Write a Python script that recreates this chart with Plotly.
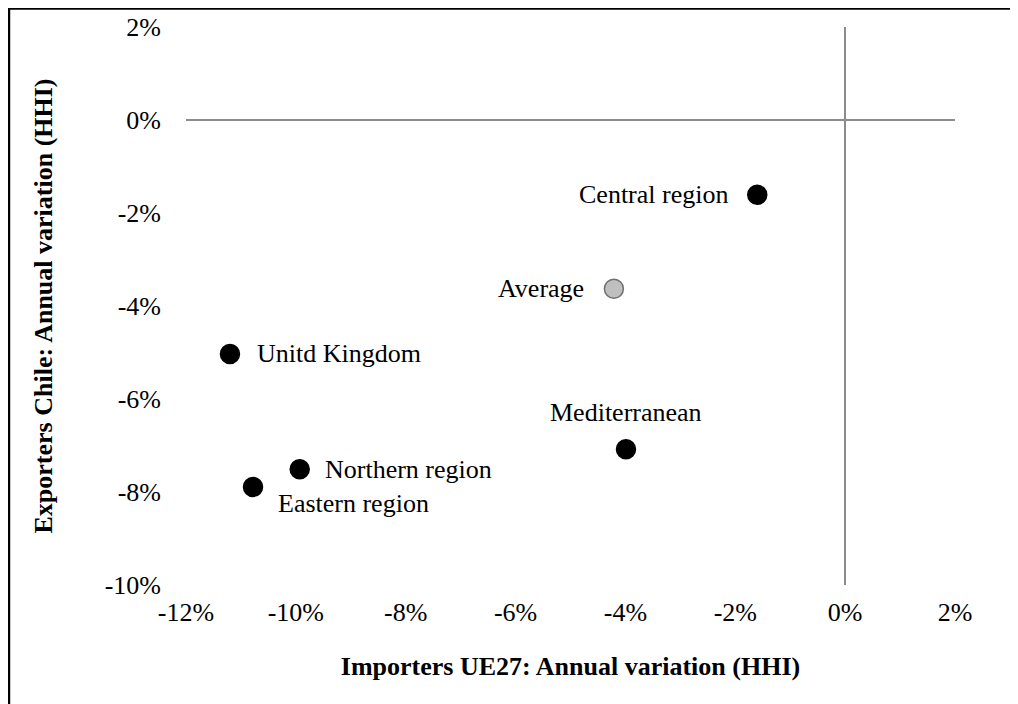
import plotly.graph_objects as go

names = ["Central region", "Average", "Unitd Kingdom", "Mediterranean", "Northern region", "Eastern region"]
x_vals = [-1.60, -4.21, -11.20, -3.99, -9.93, -10.78]
y_vals = [-1.61, -3.63, -5.03, -7.08, -7.51, -7.89]
fill_colors = ["#000000", "#bfbfbf", "#000000", "#000000", "#000000", "#000000"]
line_colors = ["#000000", "#6f6f6f", "#000000", "#000000", "#000000", "#000000"]

x_ticks = [-12, -10, -8, -6, -4, -2, 0, 2]
y_ticks = [-10, -8, -6, -4, -2, 0, 2]

# label placement (style): xanchor, yanchor, xshift, yshift
label_pos = {
    "Central region": ("right", "middle", -27, 0),
    "Average": ("right", "middle", -28, 0),
    "Unitd Kingdom": ("left", "middle", 25, 0),
    "Mediterranean": ("center", "middle", 0, 37),
    "Northern region": ("left", "middle", 23, 0),
    "Eastern region": ("left", "middle", 23, -17),
}

FONT = "Liberation Serif, Times New Roman, serif"

fig = go.Figure()
fig.add_trace(go.Scatter(
    x=x_vals, y=y_vals, mode="markers",
    marker=dict(size=19, color=fill_colors, line=dict(color=line_colors, width=1.5)),
    showlegend=False, hoverinfo="skip",
))

annotations = []
for n, xv, yv in zip(names, x_vals, y_vals):
    xa, ya, xs, ys = label_pos[n]
    annotations.append(dict(
        x=xv, y=yv, xref="x", yref="y", text=n, showarrow=False,
        xanchor=xa, yanchor=ya, xshift=xs, yshift=ys,
        font=dict(family=FONT, size=26, color="#000000"),
    ))

# figure drawn inside the page's 8px body margin
fig.update_layout(
    width=1010, height=696,
    margin=dict(l=178, r=63, t=19, b=119),
    paper_bgcolor="white", plot_bgcolor="white",
    font=dict(family=FONT, size=26, color="#000000"),
    annotations=annotations,
    shapes=[
        dict(type="line", xref="paper", yref="paper", x0=-0.2315, x1=1.2, y0=1.0332, y1=1.0332,
             line=dict(color="black", width=2.5)),
        dict(type="line", xref="paper", yref="paper", x0=-0.2302, x1=-0.2302, y0=-0.3, y1=1.0332,
             line=dict(color="black", width=2.5)),
    ],
)
fig.update_xaxes(
    range=[-12, 2], tickvals=x_ticks, ticktext=[f"{v}%" for v in x_ticks],
    showgrid=False, zeroline=True, zerolinecolor="#8c8c8c", zerolinewidth=1.5,
    showline=False, ticks="", ticklabelstandoff=9, automargin=False,
    tickfont=dict(family=FONT, size=26),
    title=dict(text="<b>Importers UE27: Annual variation (HHI)</b>",
               font=dict(family=FONT, size=26), standoff=30),
)
fig.update_yaxes(
    range=[-10, 2], tickvals=y_ticks, ticktext=[f"{v}%" for v in y_ticks],
    showgrid=False, zeroline=True, zerolinecolor="#8c8c8c", zerolinewidth=1.5,
    showline=False, ticks="", ticklabelstandoff=24, automargin=False,
    tickfont=dict(family=FONT, size=26),
    title=dict(text="<b>Exporters Chile: Annual variation (HHI)</b>",
               font=dict(family=FONT, size=26), standoff=44),
)

fig.write_html("out.html")
